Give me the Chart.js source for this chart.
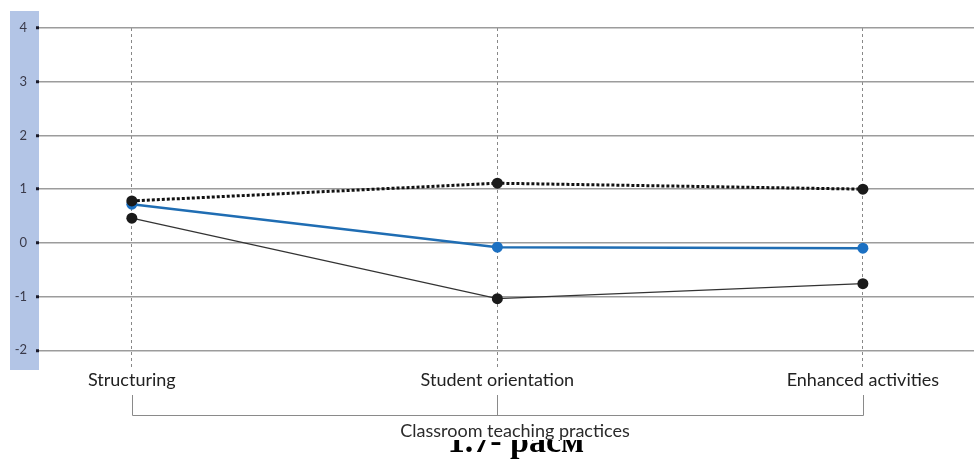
<!DOCTYPE html>
<html>
<head>
<meta charset="utf-8">
<script src="https://cdn.jsdelivr.net/npm/chart.js@4.4.1/dist/chart.umd.min.js"></script>
<style>
  html, body { margin: 0; padding: 0; background: #fff; overflow: hidden; }
</style>
</head>
<body>
<canvas id="chart" width="974" height="461"></canvas>
<script>
// Данные графика
const categories = ["Structuring", "Student orientation", "Enhanced activities"];
const highSeries = [0.78, 1.11, 1.0];
const midSeries = [0.72, -0.08, -0.1];
const lowSeries = [0.46, -1.04, -0.76];
const yTicks = [-2, -1, 0, 1, 2, 3, 4];
const axisTitle = "Classroom teaching practices";
const figureCaption = "1.7- расм";

const labelFont = "Lato, 'Open Sans', sans-serif";

// Рисует синюю полосу слева, скобку снизу и подписи
const decorPlugin = {
  id: "decor",
  beforeDraw(chart) {
    const ctx = chart.ctx;
    const area = chart.chartArea;
    ctx.save();
    ctx.fillStyle = "#b3c5e6";
    ctx.fillRect(10, 11, area.left - 10, 359);
    ctx.restore();
  },
  afterDraw(chart) {
    const ctx = chart.ctx;
    const x = chart.scales.x;
    const xs = [0, 1, 2].map((v) => x.getPixelForValue(v));
    ctx.save();
    ctx.strokeStyle = "#8a8a8a";
    ctx.lineWidth = 1;
    ctx.beginPath();
    xs.forEach((px) => {
      ctx.moveTo(Math.round(px) + 0.5, 395);
      ctx.lineTo(Math.round(px) + 0.5, 415.5);
    });
    ctx.moveTo(Math.round(xs[0]) + 0.5, 415.5);
    ctx.lineTo(Math.round(xs[2]) + 0.5, 415.5);
    ctx.stroke();

    // Подпись рисунка, верх обрезан
    ctx.save();
    ctx.beginPath();
    ctx.rect(0, 440, 974, 21);
    ctx.clip();
    ctx.font = "bold 34px 'Liberation Serif', 'Times New Roman', serif";
    ctx.textAlign = "center";
    ctx.textBaseline = "alphabetic";
    ctx.fillStyle = "#000";
    ctx.fillText(figureCaption, 516, 452);
    ctx.restore();

    ctx.fillStyle = "#2a2a2a";
    ctx.font = "18px " + labelFont;
    ctx.textAlign = "center";
    ctx.textBaseline = "middle";
    ctx.fillText(axisTitle, 515, 431);
    ctx.restore();
  },
};

const ctx = document.getElementById("chart").getContext("2d");

new Chart(ctx, {
  type: "line",
  data: {
    datasets: [
      {
        data: highSeries.map((v, i) => ({ x: i, y: v })),
        borderColor: "#111",
        borderWidth: 3,
        borderDash: [3, 2],
        pointRadius: 5.5,
        pointBackgroundColor: "#1a1a1a",
        pointBorderWidth: 0,
        tension: 0,
      },
      {
        data: midSeries.map((v, i) => ({ x: i, y: v })),
        borderColor: "#1f6db3",
        borderWidth: 2.5,
        pointRadius: 5.5,
        pointBackgroundColor: "#1b70c2",
        pointBorderWidth: 0,
        tension: 0,
      },
      {
        data: lowSeries.map((v, i) => ({ x: i, y: v })),
        borderColor: "#333",
        borderWidth: 1.2,
        pointRadius: 5.5,
        pointBackgroundColor: "#1a1a1a",
        pointBorderWidth: 0,
        tension: 0,
      },
    ],
  },
  options: {
    responsive: false,
    animation: false,
    layout: {
      autoPadding: false,
      padding: { top: 28, right: 0, bottom: 0, left: 0 },
    },
    plugins: {
      legend: { display: false },
      tooltip: { enabled: false },
    },
    scales: {
      x: {
        type: "linear",
        min: -0.254,
        max: 2.304,
        afterBuildTicks: (scale) => {
          scale.ticks = categories.map((c, i) => ({ value: i }));
        },
        afterFit: (scale) => {
          scale.height = 93;
          scale.paddingLeft = 0;
          scale.paddingRight = 0;
        },
        border: { display: false, dash: [3, 3] },
        grid: {
          color: "#888",
          lineWidth: 1,
          drawTicks: false,
        },
        ticks: {
          padding: 1,
          color: "#222",
          font: { family: labelFont, size: 18 },
          callback: (value) => categories[value],
          maxRotation: 0,
          autoSkip: false,
        },
      },
      y: {
        min: -2.33,
        max: 4,
        afterBuildTicks: (scale) => {
          scale.ticks = yTicks.map((v) => ({ value: v }));
        },
        afterFit: (scale) => {
          scale.width = 39;
        },
        border: { display: false },
        grid: {
          color: "#9c9c9c",
          lineWidth: 1.5,
          tickLength: 3,
          tickWidth: 3,
          tickColor: "#1a1a2a",
        },
        ticks: {
          padding: 9,
          color: "#3a3a4a",
          font: { family: labelFont, size: 13 },
        },
      },
    },
  },
  plugins: [decorPlugin],
});
</script>
</body>
</html>
